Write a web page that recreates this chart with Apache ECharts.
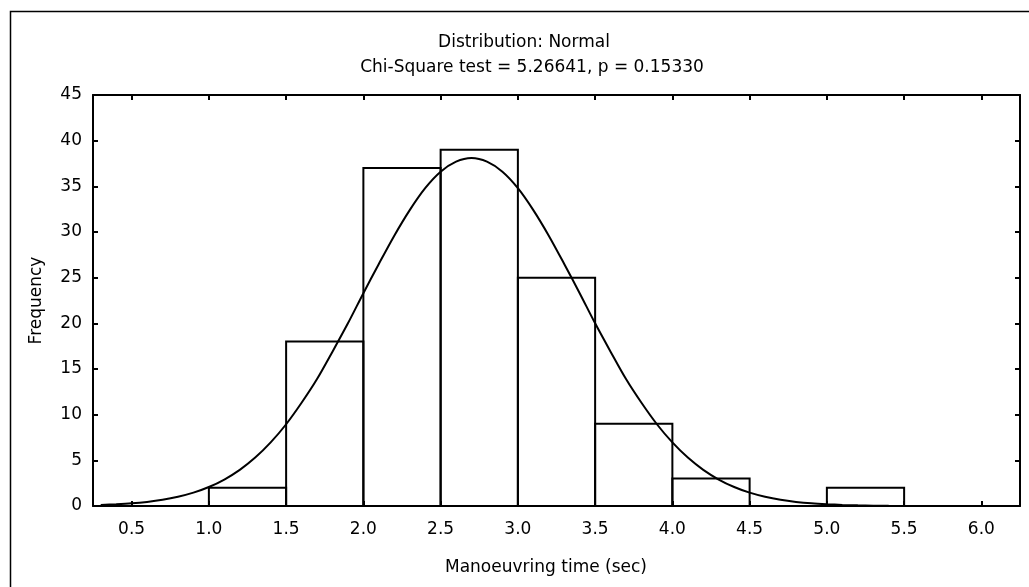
<!DOCTYPE html>
<html>
<head>
<meta charset="utf-8">
<script src="https://cdn.jsdelivr.net/npm/echarts@6/dist/echarts.min.js"></script>
<style>
html,body{margin:0;padding:0;background:#fff;}
#chart{width:1029px;height:587px;}
</style>
</head>
<body>
<div id="chart"></div>
<script>
// ---- Data ----
const titleText = 'Distribution: Normal';
const subtitleText = 'Chi-Square test = 5.26641, p = 0.15330';
const xAxisName = 'Manoeuvring time (sec)';
const yAxisName = 'Frequency';

const binStart = [1.0, 1.5, 2.0, 2.5, 3.0, 3.5, 4.0, 4.5, 5.0];
const binEnd   = [1.5, 2.0, 2.5, 3.0, 3.5, 4.0, 4.5, 5.0, 5.5];
const frequency = [2, 18, 37, 39, 25, 9, 3, 0, 2];

// fitted normal curve, every 0.1 s
const curveX = [0.3, 0.4, 0.5, 0.6, 0.7, 0.8, 0.9, 1.0, 1.1, 1.2, 1.3, 1.4, 1.5, 1.6, 1.7, 1.8, 1.9, 2.0,
                2.1, 2.2, 2.3, 2.4, 2.5, 2.6, 2.7, 2.8, 2.9, 3.0, 3.1, 3.2, 3.3, 3.4, 3.5, 3.6, 3.7, 3.8,
                3.9, 4.0, 4.1, 4.2, 4.3, 4.4, 4.5, 4.6, 4.7, 4.8, 4.9, 5.0, 5.1, 5.2, 5.3, 5.4];
const curveY = [0.12, 0.19, 0.29, 0.45, 0.68, 1.01, 1.46, 2.08, 2.9, 3.96, 5.3, 6.96, 8.95, 11.3, 13.9, 16.9, 20.0, 23.3,
                26.5, 29.6, 32.4, 34.8, 36.6, 37.7, 38.1, 37.7, 36.6, 34.8, 32.4, 29.6, 26.5, 23.3, 20.0, 16.9, 13.9, 11.3,
                8.95, 6.96, 5.3, 3.96, 2.9, 2.08, 1.46, 1.01, 0.68, 0.45, 0.29, 0.19, 0.12, 0.07, 0.04, 0.02];

const xTickValues = [0.5, 1.0, 1.5, 2.0, 2.5, 3.0, 3.5, 4.0, 4.5, 5.0, 5.5, 6.0];
const xMin = 0.25, xMax = 6.25;
const yMin = 0, yMax = 45, yStep = 5;

// ---- Chart ----
const FONT = 'DejaVu Sans';
const FS = 17;
const chart = echarts.init(document.getElementById('chart'), null, {renderer: 'canvas'});

const histData = binStart.map((s, i) => [s, binEnd[i], frequency[i]]);
const curveData = curveX.map((x, i) => [x, curveY[i]]);

const axisLineStyle = {color: '#000', width: 2};
const tickStyle = {show: true, inside: true, length: 5, lineStyle: {color: '#000', width: 2}};

chart.setOption({
  backgroundColor: '#fff',
  animation: false,
  textStyle: {fontFamily: FONT},
  grid: {left: 93, right: 9, top: 95, bottom: 81, containLabel: false},
  xAxis: [
    {
      type: 'value', min: xMin, max: xMax, position: 'bottom',
      axisLine: {show: true, onZero: false, lineStyle: axisLineStyle},
      axisTick: Object.assign({customValues: xTickValues}, tickStyle),
      axisLabel: {customValues: xTickValues, formatter: v => v.toFixed(1), color: '#000', fontSize: FS, fontFamily: FONT, margin: 15},
      splitLine: {show: false}
    },
    {
      type: 'value', min: xMin, max: xMax, position: 'top',
      axisLine: {show: true, onZero: false, lineStyle: axisLineStyle},
      axisTick: Object.assign({customValues: xTickValues}, tickStyle),
      axisLabel: {show: false},
      splitLine: {show: false}
    }
  ],
  yAxis: [
    {
      type: 'value', min: yMin, max: yMax, interval: yStep, position: 'left',
      name: yAxisName, nameLocation: 'middle', nameGap: 48,
      nameTextStyle: {color: '#000', fontSize: FS, fontFamily: FONT},
      axisLine: {show: true, onZero: false, lineStyle: axisLineStyle},
      axisTick: tickStyle,
      axisLabel: {color: '#000', fontSize: FS, fontFamily: FONT, margin: 11},
      splitLine: {show: false}
    },
    {
      type: 'value', min: yMin, max: yMax, interval: yStep, position: 'right',
      axisLine: {show: true, onZero: false, lineStyle: axisLineStyle},
      axisTick: tickStyle,
      axisLabel: {show: false},
      splitLine: {show: false}
    }
  ],
  graphic: [
    {type: 'rect', left: 8, top: 9, shape: {x: 0, y: 0, width: 1100, height: 700}, style: {fill: 'none', stroke: '#000', lineWidth: 1.5}, silent: true},
    {type: 'text', x: 524, y: 43, style: {text: titleText, font: FS + 'px "' + FONT + '"', fill: '#000', align: 'center', verticalAlign: 'middle'}},
    {type: 'text', x: 532, y: 68, style: {text: subtitleText, font: FS + 'px "' + FONT + '"', fill: '#000', align: 'center', verticalAlign: 'middle'}},
    {type: 'text', x: 546, y: 568, style: {text: xAxisName, font: FS + 'px "' + FONT + '"', fill: '#000', align: 'center', verticalAlign: 'middle'}}
  ],
  series: [
    {
      type: 'custom',
      xAxisIndex: 0, yAxisIndex: 0,
      data: histData,
      encode: {x: [0, 1], y: 2},
      renderItem: function (params, api) {
        const x0 = api.value(0), x1 = api.value(1), f = api.value(2);
        const pTop = api.coord([x0, f]);
        const pBot = api.coord([x1, 0]);
        return {
          type: 'rect',
          shape: {x: pTop[0], y: pTop[1], width: pBot[0] - pTop[0], height: pBot[1] - pTop[1]},
          style: {fill: 'none', stroke: '#000', lineWidth: 2}
        };
      },
      z: 2
    },
    {
      type: 'line',
      xAxisIndex: 0, yAxisIndex: 0,
      data: curveData,
      smooth: 0.3,
      showSymbol: false,
      lineStyle: {color: '#000', width: 2},
      z: 3
    }
  ]
});
</script>
</body>
</html>
